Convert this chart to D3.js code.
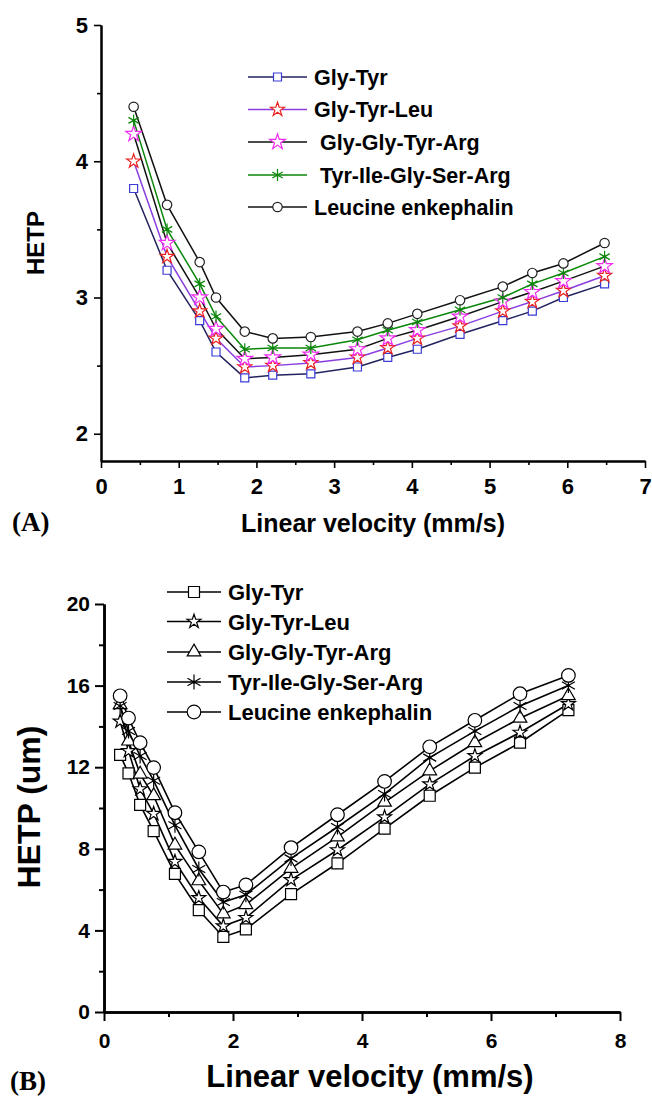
<!DOCTYPE html>
<html>
<head>
<meta charset="utf-8">
<script src="https://cdn.jsdelivr.net/npm/d3@7"></script>
<style>
body { margin: 0; background: #fff; }
svg { display: block; }
text { font-family: Arial, "Liberation Sans", sans-serif; font-weight: bold; fill: #000; }
</style>
</head>
<body>
<div id="chart"></div>
<script>
// ---- data, panel A ----
var namesA = ["Gly-Tyr", "Gly-Tyr-Leu", "Gly-Gly-Tyr-Arg", "Tyr-Ile-Gly-Ser-Arg", "Leucine enkephalin"];
var velocityA = [0.42, 0.85, 1.27, 1.48, 1.85, 2.21, 2.70, 3.30, 3.69, 4.07, 4.62, 5.17, 5.55, 5.95, 6.48];
var glyTyrA   = [3.80, 3.20, 2.83, 2.60, 2.41, 2.43, 2.44, 2.49, 2.56, 2.62, 2.73, 2.83, 2.90, 3.00, 3.10];
var glyTyrLeuA = [4.00, 3.30, 2.90, 2.70, 2.49, 2.50, 2.52, 2.56, 2.63, 2.70, 2.79, 2.90, 2.97, 3.05, 3.16];
var glyGlyA   = [4.20, 3.40, 3.00, 2.77, 2.55, 2.56, 2.58, 2.62, 2.70, 2.76, 2.86, 2.97, 3.04, 3.12, 3.23];
var tyrIleA   = [4.30, 3.50, 3.10, 2.86, 2.62, 2.63, 2.63, 2.69, 2.76, 2.82, 2.91, 3.00, 3.10, 3.18, 3.30];
var leuEnkA   = [4.40, 3.68, 3.26, 3.00, 2.75, 2.70, 2.71, 2.75, 2.81, 2.88, 2.98, 3.08, 3.18, 3.25, 3.40];
var xTicksA = [0, 1, 2, 3, 4, 5, 6, 7];
var yTicksA = [2, 3, 4, 5];

// ---- data, panel B ----
var namesB = ["Gly-Tyr", "Gly-Tyr-Leu", "Gly-Gly-Tyr-Arg", "Tyr-Ile-Gly-Ser-Arg", "Leucine enkephalin"];
var velocityB = [0.25, 0.38, 0.56, 0.77, 1.10, 1.47, 1.85, 2.20, 2.90, 3.62, 4.35, 5.05, 5.75, 6.45, 7.20];
var glyTyrB   = [12.6, 11.7, 10.15, 8.87, 6.77, 4.99, 3.68, 4.05, 5.78, 7.29, 8.99, 10.6, 11.98, 13.2, 14.8];
var glyTyrLeuB = [14.25, 12.8, 10.93, 9.72, 7.37, 5.59, 4.21, 4.62, 6.48, 7.94, 9.55, 11.17, 12.55, 13.7, 15.1];
var glyGlyB   = [15.06, 13.28, 11.66, 10.6, 8.18, 6.43, 4.81, 5.26, 7.04, 8.58, 10.28, 11.82, 13.2, 14.4, 15.5];
var tyrIleB   = [15.0, 13.77, 12.55, 11.34, 9.15, 7.01, 5.39, 5.75, 7.53, 9.07, 10.69, 12.47, 13.77, 15.0, 16.0];
var leuEnkB   = [15.5, 14.41, 13.2, 11.98, 9.77, 7.85, 5.88, 6.23, 8.06, 9.67, 11.3, 13.0, 14.3, 15.6, 16.5];
var xTicksB = [0, 2, 4, 6, 8];
var yTicksB = [0, 4, 8, 12, 16, 20];

var svg = d3.select("#chart").append("svg")
  .attr("width", 652)
  .attr("height", 1097);

svg.append("rect").attr("width", 652).attr("height", 1097).attr("fill", "#fff");

// asterisk: vertical bar + two diagonals, small dot in the middle
function asteriskPath(r) {
  var p = d3.path();
  [90, 30, 150].forEach(function(a) {
    var t = a * Math.PI / 180;
    p.moveTo(-r * Math.cos(t), -r * Math.sin(t));
    p.lineTo(r * Math.cos(t), r * Math.sin(t));
  });
  return p.toString();
}

function drawMarker(g, type, x, y, st) {
  if (type == "asterisk") {
    g.append("path")
      .attr("transform", "translate(" + x + "," + y + ")")
      .attr("d", asteriskPath(st.size))
      .attr("fill", "none")
      .attr("stroke", st.color)
      .attr("stroke-width", st.sw);
    g.append("circle").attr("cx", x).attr("cy", y).attr("r", 1.6).attr("fill", st.color);
    return;
  }
  var sym = {square: d3.symbolSquare, star: d3.symbolStar, circle: d3.symbolCircle, triangle: d3.symbolTriangle}[type];
  g.append("path")
    .attr("transform", "translate(" + x + "," + y + ")")
    .attr("d", d3.symbol().type(sym).size(st.area)())
    .attr("fill", "#fff")
    .attr("stroke", st.color)
    .attr("stroke-width", st.sw);
}

function drawAxes(g, x, y, o) {
  var fmt = d3.format("d");
  var xAxis = d3.axisBottom(x).tickValues(o.xTicks).tickFormat(fmt).tickSize(o.tick).tickSizeOuter(0).tickPadding(o.xPad);
  var xMinor = d3.axisBottom(x).tickValues(o.xMinor).tickSize(o.minor).tickSizeOuter(0).tickFormat("");
  var yAxis = d3.axisLeft(y).tickValues(o.yTicks).tickFormat(fmt).tickSize(o.tick).tickSizeOuter(0).tickPadding(o.yPad);
  var yMinor = d3.axisLeft(y).tickValues(o.yMinor).tickSize(o.minor).tickSizeOuter(0).tickFormat("");

  var gx = g.append("g").attr("transform", "translate(0," + y.range()[0] + ")");
  gx.call(xMinor);
  gx.append("g").call(xAxis);
  var gy = g.append("g").attr("transform", "translate(" + x.range()[0] + ",0)");
  gy.call(yMinor);
  gy.append("g").call(yAxis);

  g.selectAll(".domain").attr("stroke", "#000").attr("stroke-width", o.axisW);
  g.selectAll(".tick line").attr("stroke", "#000").attr("stroke-width", o.axisW * 0.8);
  g.selectAll(".tick text")
    .attr("fill", "#000")
    .style("font-family", "Arial, 'Liberation Sans', sans-serif")
    .style("font-weight", "bold")
    .style("font-size", o.fontSize + "px");
}

// ================= panel A =================
var gA = svg.append("g");
var xA = d3.scaleLinear().domain([0, 7]).range([101, 645]);
var yA = d3.scaleLinear().domain([1.8, 5]).range([461, 25]);

drawAxes(gA, xA, yA, {
  xTicks: xTicksA, xMinor: d3.range(0.5, 7, 1),
  yTicks: yTicksA, yMinor: [2.5, 3.5, 4.5],
  tick: 7, minor: 4, xPad: 10, yPad: 6, axisW: 2, fontSize: 22
});

var seriesA = [
  {name: namesA[0], vals: glyTyrA, line: "#22225e", mark: "#3b3bd6", type: "square", area: 64},
  {name: namesA[1], vals: glyTyrLeuA, line: "#8a3ee0", mark: "#e8201e", type: "star", area: 60},
  {name: namesA[2], vals: glyGlyA, line: "#111", mark: "#f02cf0", type: "star", area: 75},
  {name: namesA[3], vals: tyrIleA, line: "#0a870a", mark: "#0a870a", type: "asterisk", size: 6},
  {name: namesA[4], vals: leuEnkA, line: "#111", mark: "#222", type: "circle", area: 70}
];

var lineA = d3.line().x(function(d){ return xA(d[0]); }).y(function(d){ return yA(d[1]); });

seriesA.forEach(function(s) {
  var pts = velocityA.map(function(v, i){ return [v, s.vals[i]]; });
  gA.append("path").attr("d", lineA(pts)).attr("fill", "none")
    .attr("stroke", s.line).attr("stroke-width", 1.5);
});
seriesA.forEach(function(s) {
  velocityA.forEach(function(v, i) {
    drawMarker(gA, s.type, xA(v), yA(s.vals[i]), {color: s.mark, area: s.area, size: s.size, sw: 1.2});
  });
});

// legend A
var legA = gA.append("g");
seriesA.forEach(function(s, i) {
  var cy = [77, 109.5, 142, 175, 207][i];
  legA.append("line").attr("x1", 248).attr("x2", 307).attr("y1", cy).attr("y2", cy)
    .attr("stroke", s.line).attr("stroke-width", 1.5);
  drawMarker(legA, s.type, 277.5, cy, {color: s.mark, area: s.area, size: s.size, sw: 1.2});
  legA.append("text").attr("x", (i == 2 || i == 3) ? 320 : 314).attr("y", cy + 7.5)
    .style("font-size", "21.5px").text(s.name);
});

svg.append("text")
  .attr("transform", "translate(44,243) rotate(-90)")
  .attr("text-anchor", "middle")
  .style("font-size", "24px")
  .text("HETP");

svg.append("text")
  .attr("x", 373).attr("y", 532)
  .attr("text-anchor", "middle")
  .style("font-size", "25px")
  .text("Linear velocity (mm/s)");

svg.append("text")
  .attr("x", 12).attr("y", 531)
  .style("font-family", "'Liberation Serif', 'Times New Roman', serif")
  .style("font-size", "27px")
  .text("(A)");

// ================= panel B =================
var gB = svg.append("g");
var xB = d3.scaleLinear().domain([0, 8]).range([104, 620]);
var yB = d3.scaleLinear().domain([0, 20]).range([1012, 604]);

drawAxes(gB, xB, yB, {
  xTicks: xTicksB, xMinor: [1, 3, 5, 7],
  yTicks: yTicksB, yMinor: [2, 6, 10, 14, 18],
  tick: 9, minor: 5, xPad: 12, yPad: 5, axisW: 2.5, fontSize: 21
});

var seriesB = [
  {name: namesB[0], vals: glyTyrB, type: "square", area: 121},
  {name: namesB[1], vals: glyTyrLeuB, type: "star", area: 60},
  {name: namesB[2], vals: glyGlyB, type: "triangle", area: 80},
  {name: namesB[3], vals: tyrIleB, type: "asterisk", size: 7.5},
  {name: namesB[4], vals: leuEnkB, type: "circle", area: 145}
];

var lineB = d3.line().x(function(d){ return xB(d[0]); }).y(function(d){ return yB(d[1]); });

seriesB.forEach(function(s) {
  var pts = velocityB.map(function(v, i){ return [v, s.vals[i]]; });
  gB.append("path").attr("d", lineB(pts)).attr("fill", "none")
    .attr("stroke", "#000").attr("stroke-width", 1.6);
});
seriesB.forEach(function(s) {
  velocityB.forEach(function(v, i) {
    drawMarker(gB, s.type, xB(v), yB(s.vals[i]), {color: "#000", area: s.area, size: s.size, sw: 1.2});
  });
});

var legB = gB.append("g");
seriesB.forEach(function(s, i) {
  var cy = [592, 621.5, 652, 682, 712][i];
  legB.append("line").attr("x1", 167).attr("x2", 221).attr("y1", cy).attr("y2", cy)
    .attr("stroke", "#000").attr("stroke-width", 1.6);
  drawMarker(legB, s.type, 194, cy, {color: "#000", area: s.area, size: s.size, sw: 1.2});
  legB.append("text").attr("x", 228).attr("y", cy + 8)
    .style("font-size", "22px").text(s.name);
});

svg.append("text")
  .attr("transform", "translate(40,807) rotate(-90)")
  .attr("text-anchor", "middle")
  .style("font-size", "32px")
  .text("HETP (um)");

svg.append("text")
  .attr("x", 370).attr("y", 1087)
  .attr("text-anchor", "middle")
  .style("font-size", "31px")
  .text("Linear velocity (mm/s)");

svg.append("text")
  .attr("x", 10).attr("y", 1090)
  .style("font-family", "'Liberation Serif', 'Times New Roman', serif")
  .style("font-size", "27px")
  .text("(B)");
</script>
</body>
</html>
